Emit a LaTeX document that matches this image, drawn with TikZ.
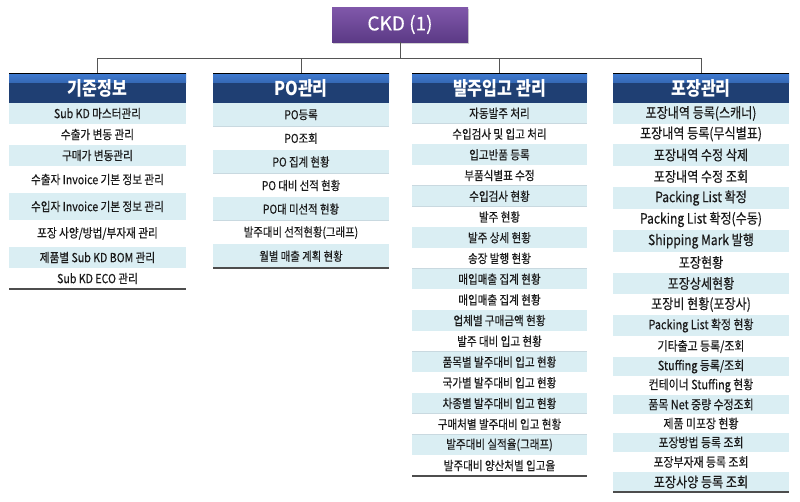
\documentclass[tikz,border=0pt]{standalone}
\usepackage{fontspec}
\setmainfont{Noto Sans CJK KR}
\newfontfamily\kr[FakeBold=0.35,FakeStretch=0.85]{Noto Sans CJK KR}
\newfontfamily\krh[FakeStretch=0.85]{Noto Sans CJK KR}
\newfontfamily\krc[FakeBold=0.3]{Noto Sans CJK KR}
\usetikzlibrary{shadows}
\definecolor{rowblue}{HTML}{DAEEF3}
\definecolor{sepc}{HTML}{C9D9E0}
\definecolor{navy}{HTML}{1F3F73}
\definecolor{hdrtop}{HTML}{3F7BD2}
\definecolor{purpT}{HTML}{8058AA}
\definecolor{purpB}{HTML}{5C3A86}
\definecolor{conn}{HTML}{555555}
\definecolor{botline}{HTML}{4D4D4D}
\definecolor{txt}{HTML}{1A1A1A}
\tikzset{
  ckdbox/.style={minimum width=136pt, minimum height=35pt, inner sep=0pt, outer sep=0pt,
    top color=purpT, bottom color=purpB, text=white,
    font=\krc\fontsize{19}{19}\selectfont,
    drop shadow={opacity=0.35, shadow xshift=1.2pt, shadow yshift=-1.5pt}},
  hdr/.style={minimum height=30pt, inner sep=0pt, outer sep=0pt, anchor=north west,
    fill=navy, text=white, font=\krh\bfseries\fontsize{19}{19}\selectfont,
    path picture={\fill[top color=hdrtop, bottom color=navy]
      (path picture bounding box.north west) rectangle ([yshift=-9pt]path picture bounding box.north east);}},
  cell/.style={inner sep=0pt, outer sep=0pt, anchor=north west, text=txt},
  sepline/.style={draw=sepc, line width=0.8pt},
  botrule/.style={draw=botline, line width=2pt},
  hdrline/.style={draw=black, line width=0.8pt},
  conn/.style={draw=conn, line width=0.9pt}
}
\begin{document}
\begin{tikzpicture}[x=1pt,y=-1pt]
\useasboundingbox (0,0) rectangle (800,501);
\fill[white] (0,0) rectangle (800,501);

% top node
\node[ckdbox] (ckd) at (400,24.5) {CKD (1)};

% headers
\node[hdr, minimum width=177pt] (a0) at (9,73) {기준정보};
\node[hdr, minimum width=176pt] (b0) at (213,73) {PO관리};
\node[hdr, minimum width=175pt] (c0) at (412,73) {발주입고 관리};
\node[hdr, minimum width=176pt] (d0) at (613,73) {포장관리};
\foreach \n in {a0,b0,c0,d0}{\draw[hdrline] (\n.north west) -- (\n.north east);}

% connectors
\coordinate (bus) at (400,58);
\draw[conn] (ckd.south) -- (ckd.south |- bus);
\draw[conn] (a0.north) -- (a0.north |- bus) -- (d0.north |- bus) -- (d0.north);
\draw[conn] (b0.north |- bus) -- (b0.north);
\draw[conn] (c0.north |- bus) -- (c0.north);

% column 1
\foreach \h/\fs/\txt [count=\i] in {
  21/12.5/{Sub KD 마스터관리},
  21/12.5/{수출가 변동 관리},
  21/12.5/{구매가 변동관리},
  27/12.5/{수출자 Invoice 기본 정보 관리},
  27/12.5/{수입자 Invoice 기본 정보 관리},
  27/12.5/{포장 사양/방법/부자재 관리},
  21/12.5/{제품별 Sub KD BOM 관리},
  21/12.5/{Sub KD ECO 관리}}{
  \pgfmathtruncatemacro\prev{\i-1}
  \ifodd\i \def\fc{rowblue}\else\def\fc{white}\fi
  \node[cell, fill=\fc, minimum width=177pt, minimum height=\h pt,
        font=\kr\fontsize{\fs}{\fs}\selectfont] (a\i) at (a\prev.south west) {\txt};
  \ifnum\i<8 \draw[sepline] (a\i.south west) -- (a\i.south east);
  \else \draw[botrule] (a\i.south west) -- (a\i.south east); \fi
}

% column 2
\foreach \h/\fs/\txt [count=\i] in {
  23.57/12.2/{PO등록},
  23.57/12.2/{PO조회},
  23.57/12.2/{PO 집계 현황},
  23.57/12.2/{PO 대비 선적 현황},
  23.57/12.2/{PO대 미선적 현황},
  23.57/12.2/{발주대비 선적현황(그래프)},
  23.58/12.2/{월별 매출 계획 현황}}{
  \pgfmathtruncatemacro\prev{\i-1}
  \ifodd\i \def\fc{rowblue}\else\def\fc{white}\fi
  \node[cell, fill=\fc, minimum width=176pt, minimum height=\h pt,
        font=\kr\fontsize{\fs}{\fs}\selectfont] (b\i) at (b\prev.south west) {\txt};
  \ifnum\i<7 \draw[sepline] (b\i.south west) -- (b\i.south east);
  \else \draw[botrule] (b\i.south west) -- (b\i.south east); \fi
}

% column 3
\foreach \h/\fs/\txt [count=\i] in {
  20.72/12.4/{자동발주 처리},
  20.72/12.4/{수입검사 및 입고 처리},
  20.72/12.4/{입고반품 등록},
  20.72/12.4/{부품식별표 수정},
  20.72/12.4/{수입검사 현황},
  20.72/12.4/{발주 현황},
  20.72/12.4/{발주 상세 현황},
  20.72/12.4/{송장 발행 현황},
  20.72/12.4/{매입매출 집계 현황},
  20.72/12.4/{매입매출 집계 현황},
  20.72/12.4/{업체별 구매금액 현황},
  20.72/12.4/{발주 대비 입고 현황},
  20.72/12.4/{품목별 발주대비 입고 현황},
  20.72/12.4/{국가별 발주대비 입고 현황},
  20.72/12.4/{차종별 발주대비 입고 현황},
  20.72/12.4/{구매처별 발주대비 입고 현황},
  20.72/12.4/{발주대비 실적율(그래프)},
  20.72/12.4/{발주대비 양산처별 입고율}}{
  \pgfmathtruncatemacro\prev{\i-1}
  \ifodd\i \def\fc{rowblue}\else\def\fc{white}\fi
  \node[cell, fill=\fc, minimum width=175pt, minimum height=\h pt,
        font=\kr\fontsize{\fs}{\fs}\selectfont] (c\i) at (c\prev.south west) {\txt};
  \ifnum\i<18 \draw[sepline] (c\i.south west) -- (c\i.south east);
  \else \draw[botrule] (c\i.south west) -- (c\i.south east); \fi
}

% column 4
\foreach \h/\fs/\txt [count=\i] in {
  21/14.2/{포장내역 등록(스캐너)},
  20/14.2/{포장내역 등록(무식별표)},
  22/14.2/{포장내역 수정 삭제},
  21/14.2/{포장내역 수정 조회},
  22/14.2/{Packing List 확정},
  21/14.2/{Packing List 확정(수동)},
  22/14.2/{Shipping Mark 발행},
  21/14.2/{포장현황},
  21/14.2/{포장상세현황},
  21/14.2/{포장비 현황(포장사)},
  21/12.8/{Packing List 확정 현황},
  21/12.8/{기타출고 등록/조회},
  19/12.8/{Stuffing 등록/조회},
  19/12.8/{컨테이너 Stuffing 현황},
  19/12.8/{품목 Net 중량 수정조회},
  19/12.8/{제품 미포장 현황},
  19/12.8/{포장방법 등록 조회},
  20/12.8/{포장부자재 등록 조회},
  20/14.2/{포장사양 등록 조회}}{
  \pgfmathtruncatemacro\prev{\i-1}
  \ifodd\i \def\fc{rowblue}\else\def\fc{white}\fi
  \node[cell, fill=\fc, minimum width=176pt, minimum height=\h pt,
        font=\kr\fontsize{\fs}{\fs}\selectfont] (d\i) at (d\prev.south west) {\txt};
  \ifnum\i<19 \draw[sepline] (d\i.south west) -- (d\i.south east);
  \else \draw[botrule] (d\i.south west) -- (d\i.south east); \fi
}
\end{tikzpicture}
\end{document}
